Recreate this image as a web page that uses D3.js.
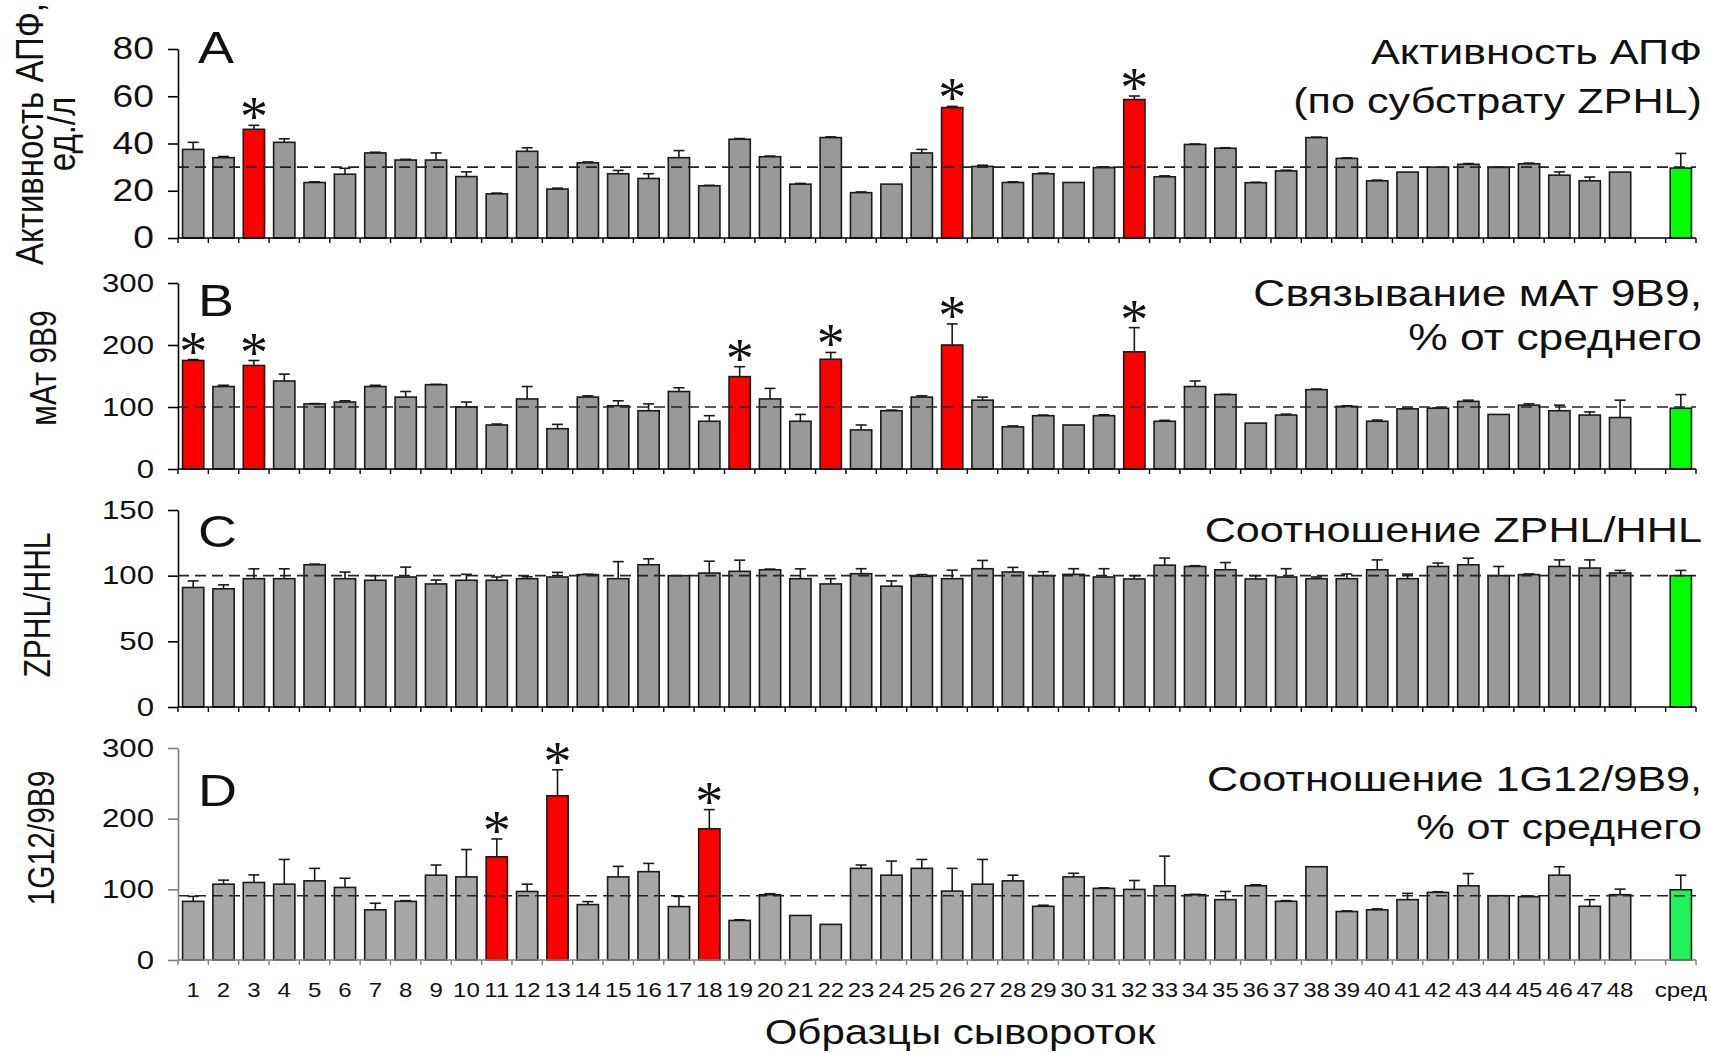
<!DOCTYPE html>
<html>
<head>
<meta charset="utf-8">
<script src="https://cdn.jsdelivr.net/npm/d3@7"></script>
<style>
  body { margin: 0; background: #fff; }
  text { font-family: "Liberation Sans", Arial, sans-serif; fill: #111; }
</style>
</head>
<body>
<svg id="chart" width="1710" height="1055"></svg>
<script>
// ---- categories ----
const sampleLabels = ["1","2","3","4","5","6","7","8","9","10","11","12","13","14","15","16",
  "17","18","19","20","21","22","23","24","25","26","27","28","29","30","31","32",
  "33","34","35","36","37","38","39","40","41","42","43","44","45","46","47","48"];
const gapKey = "gap";
const meanLabel = "сред";
const xAxisTitle = "Образцы сывороток";

// ---- A: ACE activity (ZPHL substrate), U/l ----
const aceActivity = [37.5, 34, 46, 40.5, 23.5, 27, 36, 33, 33, 26,
  18.7, 36.7, 20.7, 31.8, 27.2, 25.2, 34, 22.1, 41.8, 34.4,
  22.8, 42.5, 19.2, 22.8, 36, 55.2, 30.3, 23.5, 27.2, 23.5,
  29.8, 58.6, 25.9, 39.6, 38, 23.4, 28.4, 42.5, 33.7, 24.2,
  27.9, 30, 31.2, 29.9, 31.4, 26.6, 24.2, 27.9];
const aceError = [3, 0.5, 1.7, 1.5, 0.3, 2.5, 0.3, 0.3, 3, 2,
  0.3, 1.5, 0.4, 0.4, 1.4, 2, 3, 0.2, 0.3, 0.3,
  0.3, 0.3, 0.3, 0, 1.5, 0.5, 0.5, 0.3, 0.3, 0,
  0.3, 1.5, 0.4, 0.2, 0.2, 0.2, 0.3, 0.2, 0.2, 0.3,
  0, 0, 0.3, 0.2, 0.3, 1.4, 1.6, 0];
const aceMean = 29.6, aceMeanError = 6.2, aceReference = 30;
const aceMarked = ["3", "26", "32"];
const aceTicks = [0, 20, 40, 60, 80];

// ---- B: mAb 9B9 binding, % of mean ----
const binding9B9 = [175, 133, 167, 142, 105, 108, 133, 116, 136, 100,
  71, 113, 65, 116, 102, 94, 125, 77, 149, 113,
  77, 177, 63, 94, 116, 200, 111, 68, 86, 71,
  86, 189, 77, 133, 120, 74, 87, 128, 101, 77,
  97, 98, 109, 88, 103, 94, 87, 83];
const binding9B9Error = [1.5, 2, 8, 11, 0.5, 2, 2, 9, 0.5, 8,
  1.5, 20, 7, 2, 8, 11, 6, 9, 16, 17,
  11, 11, 8, 1, 2, 34, 5, 1.5, 1, 0,
  1.5, 39, 1.5, 9, 0.5, 0, 1.5, 1, 1, 2,
  1, 0.5, 2, 0, 2, 9, 5, 28];
const binding9B9Mean = 98, binding9B9MeanError = 22, binding9B9Reference = 100;
const binding9B9Marked = ["1", "3", "19", "22", "26", "32"];
const hundredsTicks = [0, 100, 200, 300];

// ---- C: ZPHL/HHL ratio ----
const ratioZH = [91, 90, 97.7, 97.7, 108.3, 97.7, 96.5, 99, 93.7, 96.5,
  96.5, 97.7, 99, 100.8, 97.7, 108.3, 100, 102, 103.3, 104.5,
  97.7, 93.7, 101.5, 92, 99.5, 97.7, 105.3, 102.8, 100, 101,
  99, 97.5, 108, 107, 104.5, 97.5, 99, 97.7, 97.7, 104.5,
  97.7, 107, 108.3, 100, 100.8, 107, 105.8, 102];
const ratioZHError = [5, 3, 7.5, 7.5, 0.5, 5, 3.5, 7.5, 3, 4.5,
  2.5, 1.5, 3.5, 0.3, 13, 4.5, 0, 9, 8.5, 0.5,
  7.5, 4, 3.8, 4, 1.3, 6.5, 6.3, 3.5, 3, 4.3,
  6.3, 2.5, 5.4, 0.6, 5.5, 2.5, 6.3, 1.3, 3.5, 7.5,
  3.5, 2.6, 5, 7, 0.5, 5, 6.2, 2];
const ratioZHMean = 100, ratioZHMeanError = 4, ratioZHReference = 100;
const ratioZHMarked = [];
const ratioZHTicks = [0, 50, 100, 150];

// ---- D: 1G12/9B9 ratio, % of mean ----
const ratio1G12 = [83, 107.3, 109.7, 107.3, 112, 102.7, 71, 83, 120, 117.6,
  146, 97, 232.4, 78.4, 117.6, 125, 75.6, 185.7, 56, 92.4,
  63, 50.4, 129.7, 120, 129.7, 97.5, 107.3, 112, 76, 117.6,
  101.3, 99.9, 105, 92.4, 85.4, 105, 83, 132, 68.6, 71,
  85.4, 95.7, 105, 91, 89.6, 120, 76, 92.4];
const ratio1G12Error = [7, 5.7, 10.7, 35, 17.7, 13, 9.3, 1, 14.4, 38.7,
  25.3, 10.3, 36.8, 4.2, 14.9, 11.7, 14.4, 27.1, 1, 1.4,
  0, 0, 4.7, 20, 12.6, 32.2, 35, 8, 1.5, 5.1,
  0.9, 12.6, 42, 0.5, 11.6, 1.4, 1, 0, 0.9, 1.3,
  8.9, 0.9, 17.3, 0, 0.9, 12, 9.4, 7.9];
const ratio1G12Mean = 99.4, ratio1G12MeanError = 20.6, ratio1G12Reference = 91;
const ratio1G12Marked = ["11", "13", "18"];

// ---- layout ----
const svg = d3.select("#chart");
const WIDE = 1.2;   // horizontal widening applied to lettering
const slots = [...sampleLabels, gapKey, meanLabel];
const x = d3.scaleBand().domain(slots).range([178, 1696]).paddingInner(0.3).paddingOuter(0.15);
const bw = x.bandwidth();
const step = x.step();
const x0 = x.range()[0], x1 = x.range()[1];

// text helper: placed by transform so that it can be widened horizontally
function label(parent, px, py, str, size, anchor) {
  return parent.append("text")
    .attr("transform", `translate(${px},${py}) scale(${WIDE},1)`)
    .attr("text-anchor", anchor || "start")
    .attr("font-size", size)
    .text(str);
}

const panels = [
  { letter: "A", values: aceActivity, errors: aceError, mean: aceMean, meanErr: aceMeanError,
    ref: aceReference, marked: aceMarked, domain: [0, 80], range: [238, 49], ticks: aceTicks, tickFont: 31,
    ylabel: ["Активность АПФ,", "ед./л"], ylabelX: [33, 65], ylabelY: 134, ylabelFont: 33,
    title: ["Активность АПФ", "(по субстрату ZPHL)"], titleY: [64, 113], titleFont: 36, letterY: 63,
    fill: "#999999", red: "#ff0000", green: "#00ff00", axisColor: "#000" },
  { letter: "B", values: binding9B9, errors: binding9B9Error, mean: binding9B9Mean, meanErr: binding9B9MeanError,
    ref: binding9B9Reference, marked: binding9B9Marked, domain: [0, 300], range: [469, 283], ticks: hundredsTicks, tickFont: 26,
    ylabel: ["мАт 9В9"], ylabelX: [46], ylabelY: 368, ylabelFont: 30,
    title: ["Связывание мАт 9В9,", "% от среднего"], titleY: [306, 350], titleFont: 37, letterY: 316,
    fill: "#999999", red: "#ff0000", green: "#00ff00", axisColor: "#000" },
  { letter: "C", values: ratioZH, errors: ratioZHError, mean: ratioZHMean, meanErr: ratioZHMeanError,
    ref: ratioZHReference, marked: ratioZHMarked, domain: [0, 150], range: [707, 510], ticks: ratioZHTicks, tickFont: 26,
    ylabel: ["ZPHL/HHL"], ylabelX: [40], ylabelY: 605, ylabelFont: 30,
    title: ["Соотношение ZPHL/HHL"], titleY: [542], titleFont: 36, letterY: 547,
    fill: "#999999", red: "#ff0000", green: "#00ff00", axisColor: "#000" },
  { letter: "D", values: ratio1G12, errors: ratio1G12Error, mean: ratio1G12Mean, meanErr: ratio1G12MeanError,
    ref: ratio1G12Reference, marked: ratio1G12Marked, domain: [0, 300], range: [960, 748], ticks: hundredsTicks, tickFont: 26,
    ylabel: ["1G12/9B9"], ylabelX: [44], ylabelY: 838, ylabelFont: 30,
    title: ["Соотношение 1G12/9B9,", "% от среднего"], titleY: [791, 839], titleFont: 36, letterY: 806,
    fill: "#a6a6a6", red: "#ff0000", green: "#22f05a", axisColor: "#808080" }
];

function drawPanel(p) {
  const y = d3.scaleLinear().domain(p.domain).range(p.range);
  const g = svg.append("g");
  const base = y(0);

  const rows = p.values.map((v, i) => ({
    key: sampleLabels[i], v, e: p.errors[i],
    color: p.marked.includes(sampleLabels[i]) ? p.red : p.fill,
    star: p.marked.includes(sampleLabels[i])
  }));
  rows.push({ key: meanLabel, v: p.mean, e: p.meanErr, color: p.green, star: false });

  // bars
  g.selectAll("rect.bar").data(rows).join("rect")
    .attr("class", "bar")
    .attr("x", d => x(d.key))
    .attr("width", bw)
    .attr("y", d => y(d.v))
    .attr("height", d => base - y(d.v))
    .attr("fill", d => d.color)
    .attr("stroke", "#1a1a1a")
    .attr("stroke-width", 1.6);

  // upper error bars
  const eb = g.selectAll("g.err").data(rows.filter(d => d.e > 0)).join("g").attr("class", "err")
    .attr("stroke", "#1a1a1a").attr("stroke-width", 1.6);
  eb.append("line")
    .attr("x1", d => x(d.key) + bw / 2).attr("x2", d => x(d.key) + bw / 2)
    .attr("y1", d => y(d.v)).attr("y2", d => y(d.v + d.e));
  eb.append("line")
    .attr("x1", d => x(d.key) + bw / 2 - 5.5).attr("x2", d => x(d.key) + bw / 2 + 5.5)
    .attr("y1", d => y(d.v + d.e)).attr("y2", d => y(d.v + d.e));

  // significance marks
  g.selectAll("text.star").data(rows.filter(d => d.star)).join("text")
    .attr("class", "star")
    .attr("x", d => x(d.key) + bw / 2)
    .attr("y", d => y(d.v + d.e) + 11)
    .attr("text-anchor", "middle")
    .style("font-family", "'Liberation Serif', 'Times New Roman', serif")
    .attr("font-size", 56)
    .text("*");

  // reference (mean) line
  g.append("line")
    .attr("x1", x0).attr("x2", x1)
    .attr("y1", y(p.ref)).attr("y2", y(p.ref))
    .attr("stroke", "#222").attr("stroke-width", 1.6)
    .attr("stroke-dasharray", "11,6");

  // y axis
  const ya = g.append("g").attr("transform", `translate(${x0},0)`)
    .call(d3.axisLeft(y).tickValues(p.ticks).tickSize(10).tickSizeOuter(0).tickPadding(14));
  ya.select(".domain").attr("stroke", p.axisColor).attr("stroke-width", 1.6);
  ya.selectAll(".tick line").attr("stroke", p.axisColor).attr("stroke-width", 1.6);
  ya.selectAll(".tick text")
    .attr("font-size", p.tickFont)
    .attr("fill", "#111")
    .style("font-family", "'Liberation Sans', Arial, sans-serif")
    .each(function () {
      const t = d3.select(this);
      const tx = +t.attr("x");
      t.attr("x", 0).attr("transform", `translate(${tx},0) scale(${WIDE},1)`);
    });

  // x axis baseline with boundary ticks
  g.append("line").attr("x1", x0).attr("x2", x1).attr("y1", base).attr("y2", base)
    .attr("stroke", p.axisColor).attr("stroke-width", 1.6);
  const bounds = slots.map((s, i) => x0 + i * step).concat([x1]);
  g.selectAll("line.xt").data(bounds).join("line").attr("class", "xt")
    .attr("x1", d => d).attr("x2", d => d).attr("y1", base).attr("y2", base + 5)
    .attr("stroke", p.axisColor).attr("stroke-width", 1.4);

  // panel letter
  label(g, 198, p.letterY, p.letter, 45);

  // panel title, right aligned
  p.title.forEach((t, i) => label(g, 1702, p.titleY[i], t, p.titleFont, "end"));

  // y axis title (rotated, glyphs widened across the page)
  p.ylabel.forEach((t, i) => {
    g.append("text")
      .attr("transform", `translate(${p.ylabelX[i]},${p.ylabelY}) rotate(-90) scale(1,${WIDE})`)
      .attr("text-anchor", "middle").attr("dominant-baseline", "middle")
      .attr("font-size", p.ylabelFont).text(t);
  });

  return { y, base };
}

const drawn = panels.map(drawPanel);

// category labels under the last panel
const lastBase = drawn[3].base;
const xa = svg.append("g").attr("transform", `translate(0,${lastBase})`)
  .call(d3.axisBottom(x).tickSize(0).tickPadding(0).tickFormat(d => d === gapKey ? "" : d));
xa.select(".domain").remove();
xa.selectAll(".tick text")
  .attr("font-size", 20)
  .attr("fill", "#222")
  .attr("dy", null)
  .style("font-family", "'Liberation Sans', Arial, sans-serif")
  .attr("y", 0)
  .attr("transform", `translate(0,37) scale(${WIDE},1)`);

label(svg, 960, 1044, xAxisTitle, 35, "middle");
</script>
</body>
</html>
